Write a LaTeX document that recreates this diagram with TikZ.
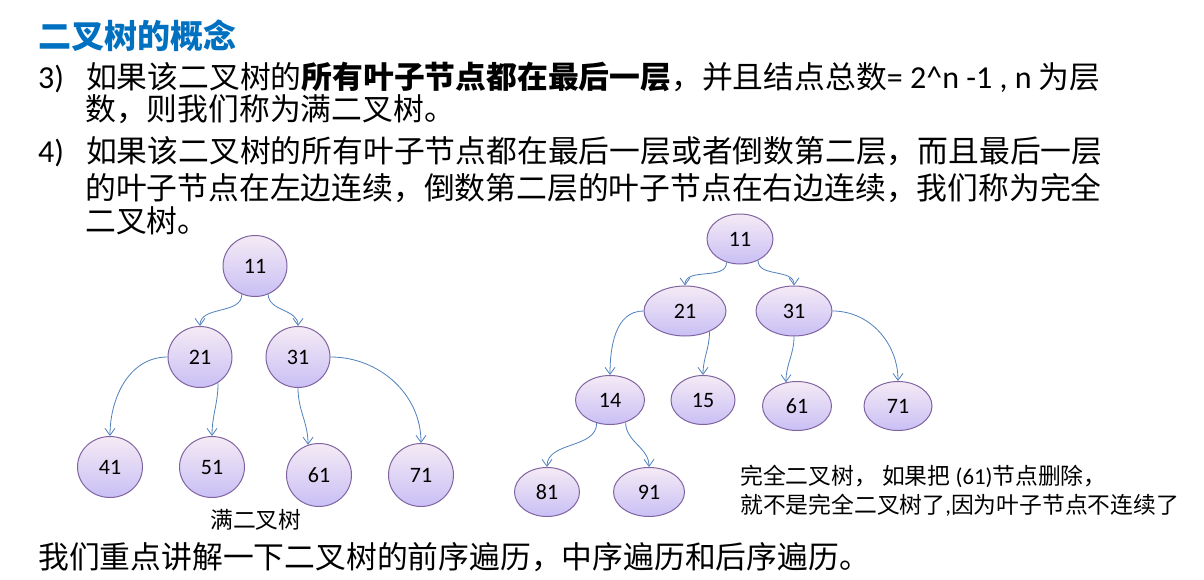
\documentclass[tikz,border=0pt]{standalone}
\usepackage{fontspec}
\setmainfont{Noto Sans CJK SC}
\newfontfamily\lat{Carlito}
\usetikzlibrary{shapes.geometric,arrows.meta}
\definecolor{hblue}{RGB}{0,112,192}
\definecolor{eblue}{RGB}{79,129,189}
\definecolor{nborder}{RGB}{128,100,162}
\tikzset{
 tn/.style={ellipse,draw=nborder,line width=1pt,top color=violet!8,bottom color=violet!30!blue!25,inner sep=0pt,font=\lat\fontsize{22}{26}\selectfont},
 ed/.style={draw=eblue,line width=0.8pt,-{Straight Barb[length=7pt,width=10pt]}},
 body/.style={anchor=west,inner sep=0pt,font=\fontsize{30.8}{36}\selectfont},
 small/.style={anchor=west,inner sep=0pt,font=\fontsize{22.8}{27}\selectfont}
}
\begin{document}
\begin{tikzpicture}[x=1pt,y=-1pt]
\useasboundingbox[fill=white] (0,0) rectangle (1204,580);
\node[body,font=\bfseries\fontsize{33}{38}\selectfont,text=hblue] (h) at (38,36) {二叉树的概念};
\node[body] (l1) at (38,78) {{\lat\fontsize{32}{36}\selectfont 3)}\hspace{22pt}如果该二叉树的\textbf{所有叶子节点都在最后一层}，并且结点总数{\lat\fontsize{32}{36}\selectfont = 2\^{}n -1 , n }为层};
\node[body] (l2) at (85,109) {数，则我们称为满二叉树。};
\node[body] (l3) at (38,152) {{\lat\fontsize{32}{36}\selectfont 4)}\hspace{22pt}如果该二叉树的所有叶子节点都在最后一层或者倒数第二层，而且最后一层};
\node[body] (l4) at (85,188) {的叶子节点在左边连续，倒数第二层的叶子节点在右边连续，我们称为完全};
\node[body] (l5) at (85,221) {二叉树。};
\node[body] (l6) at (38,557) {我们重点讲解一下二叉树的前序遍历，中序遍历和后序遍历。};
% left tree
\node[tn,minimum width=64pt,minimum height=61pt] (a11) at (255,266) {11};
\node[tn,minimum width=64pt,minimum height=61pt] (a21) at (200,357) {21};
\node[tn,minimum width=64pt,minimum height=61pt] (a31) at (298,357) {31};
\node[tn,minimum width=65pt,minimum height=61pt] (a41) at (110,467) {41};
\node[tn,minimum width=65pt,minimum height=61pt] (a51) at (212,467) {51};
\node[tn,minimum width=65pt,minimum height=63pt] (a61) at (319,475) {61};
\node[tn,minimum width=65pt,minimum height=63pt] (a71) at (421,475) {71};
\node[small] (fl) at (210,520) {满二叉树};
\draw[ed] (a11.-115) to[out=-90,in=90] (a21.north);
\draw[ed] (a11.-65) to[out=-90,in=90] (a31.north);
\draw[ed] (a21.west) to[out=180,in=90] (a41.north);
\draw[ed] (a21.-55) to[out=-90,in=90] (a51.north);
\draw[ed] (a31.south) to[out=-90,in=90] (a61.110);
\draw[ed] (a31.east) to[out=0,in=90] (a71.north);
% right tree
\node[tn,minimum width=66pt,minimum height=50pt] (b11) at (740,239) {11};
\node[tn,minimum width=82pt,minimum height=50pt] (b21) at (685,311) {21};
\node[tn,minimum width=76pt,minimum height=50pt] (b31) at (794,311) {31};
\node[tn,minimum width=69pt,minimum height=49pt] (b14) at (610,400) {14};
\node[tn,minimum width=64pt,minimum height=49pt] (b15) at (703,400) {15};
\node[tn,minimum width=69pt,minimum height=49pt] (b61) at (797,406) {61};
\node[tn,minimum width=68pt,minimum height=49pt] (b71) at (898,406) {71};
\node[tn,minimum width=65pt,minimum height=49pt] (b81) at (547,492) {81};
\node[tn,minimum width=71pt,minimum height=49pt] (b91) at (649,492) {91};
\draw[ed] (b11.-120) to[out=-90,in=90] (b21.north);
\draw[ed] (b11.-50) to[out=-90,in=90] (b31.north);
\draw[ed] (b21.west) to[out=180,in=90] (b14.north);
\draw[ed] (b21.-40) to[out=-90,in=90] (b15.north);
\draw[ed] (b31.south) to[out=-90,in=90] (b61.115);
\draw[ed] (b31.east) to[out=0,in=90] (b71.north);
\draw[ed] (b14.-120) to[out=-90,in=90] (b81.north);
\draw[ed] (b14.-55) to[out=-90,in=90] (b91.north);
\node[small] (t1) at (740,476) {完全二叉树， 如果把 {\lat (61)}节点删除，};
\node[small] (t2) at (740,505) {就不是完全二叉树了{\lat ,}因为叶子节点不连续了};
\end{tikzpicture}
\end{document}
